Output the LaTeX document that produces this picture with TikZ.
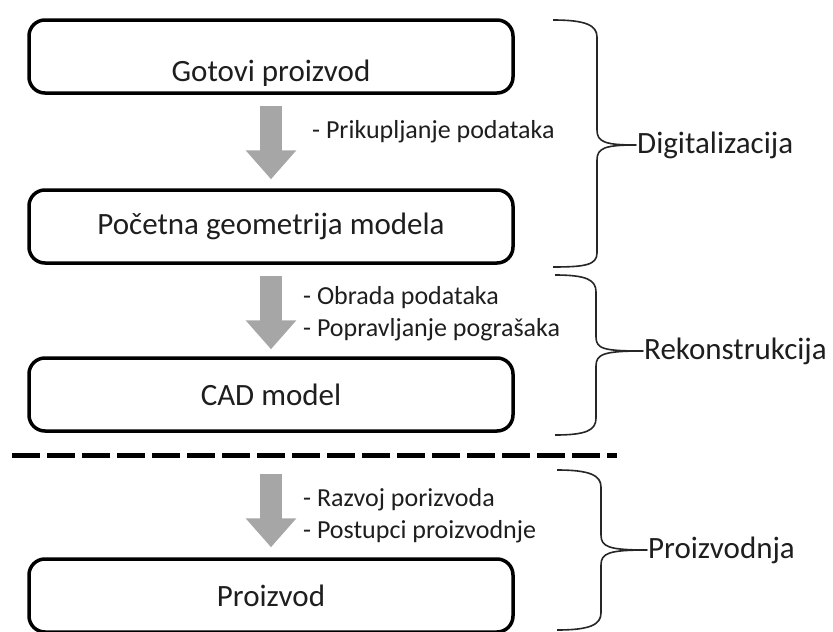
\documentclass[tikz,border=0pt]{standalone}
\usepackage{fontspec}
\setmainfont{Carlito}
\usetikzlibrary{arrows.meta}
\definecolor{arrowgray}{RGB}{166,166,166}
\definecolor{textgray}{RGB}{30,30,30}
\begin{document}
\begin{tikzpicture}[x=1pt,y=-1pt,
  box/.style={draw, rounded corners=16pt, line width=3.5pt, minimum width=484pt, minimum height=73pt, inner sep=3pt, font=\fontsize{31}{37}\selectfont, text=textgray},
  note/.style={anchor=west, inner sep=0pt, align=left, font=\fontsize{26}{32}\selectfont, text=textgray},
  phase/.style={anchor=west, inner sep=1pt, font=\fontsize{31}{37}\selectfont, text=textgray},
  flow/.style={draw=arrowgray, line width=22pt, -{Triangle[width=49pt,length=29pt]}},
  curly/.style={draw=black!85, line width=1.6pt, line join=round}]
\useasboundingbox (0,0) rectangle (833,632);
\node[box, text height=56pt, text depth=6pt] (gp) at (271,56.5) {Gotovi proizvod};
\node[box] (pg) at (271,226.5) {Početna geometrija modela};
\node[box] (cad) at (271,394.5) {CAD model};
\node[box] (pr) at (271,595.5) {Proizvod};
\path[flow, shorten <=11pt, shorten >=9pt] (gp) -- (pg);
\path[flow, shorten <=11pt, shorten >=7pt] (pg) -- (cad);
\path[flow, shorten <=41pt, shorten >=10pt] (cad) -- (pr);

\node[note] (n1) at (312,132) {- Prikupljanje podataka};
\node[note] (n2) at (303,314) {- Obrada podataka\\- Popravljanje pograšaka};
\node[note] (n3) at (303,516) {- Razvoj porizvoda\\- Postupci proizvodnje};

\coordinate (sepL) at (12,455);
\coordinate (sepR) at (617,455);
\path[draw, line width=5pt, dash pattern=on 28pt off 7pt] (sepL) -- (sepR);

\node[phase] (dig) at (636,145) {Digitalizacija};
\node[phase] (rek) at (643,351) {Rekonstrukcija};
\node[phase] (pro) at (647,550) {Proizvodnja};
\path[curly] (553,20) .. controls (585,20) and (597,25) .. (597,37) -- (597,130)
  .. controls (597,142) and (605,145) .. (dig.west)
  .. controls (605,145) and (597,148) .. (597,160) -- (597,253)
  .. controls (597,265) and (585,267) .. (553,267);
\path[curly] (555,275) .. controls (587,275) and (596,280) .. (596,292) -- (596,337)
  .. controls (596,349) and (604,351) .. (rek.west)
  .. controls (604,351) and (596,354) .. (596,366) -- (596,418)
  .. controls (596,430) and (587,435) .. (555,435);
\path[curly] (557,470) .. controls (589,470) and (601,475) .. (601,487) -- (601,535)
  .. controls (601,547) and (609,550) .. (pro.west)
  .. controls (609,550) and (601,553) .. (601,565) -- (601,613)
  .. controls (601,625) and (589,630) .. (557,630);
\end{tikzpicture}
\end{document}
